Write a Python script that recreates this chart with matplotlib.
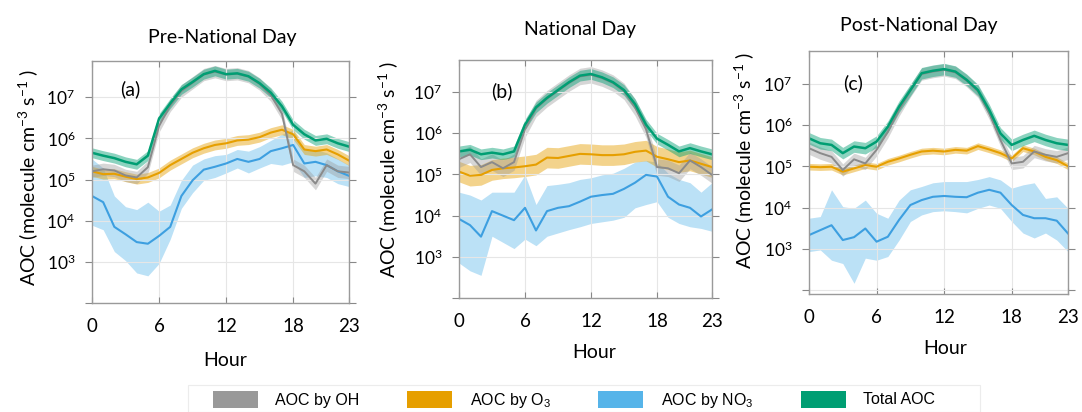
import numpy as np
import matplotlib
matplotlib.use("Agg")
import matplotlib.pyplot as plt
from matplotlib.patches import Patch, Rectangle

plt.rcParams['font.family'] = ['Lato', 'DejaVu Sans']
plt.rcParams['mathtext.default'] = 'regular'

hours = np.arange(24)
xtick_vals = [0, 6, 12, 18, 23]
panel_titles = ["Pre-National Day", "National Day", "Post-National Day"]
panel_tags = ["(a)", "(b)", "(c)"]
series_names = ["AOC by OH", "AOC by O$_3$", "AOC by NO$_3$", "Total AOC"]

# ---- values as log10(AOC) ----
# Panel (a) Pre-National Day
oh_a = [5.20, 5.25, 5.22, 5.10, 5.05, 5.30, 6.30, 6.80, 7.15, 7.35, 7.55, 7.62,
        7.55, 7.57, 7.50, 7.32, 7.05, 6.60, 5.35, 5.20, 4.90, 5.35, 5.20, 5.17]
o3_a = [5.20, 5.13, 5.14, 5.07, 5.01, 5.05, 5.16, 5.35, 5.50, 5.65, 5.76, 5.84,
        5.88, 5.95, 5.97, 6.03, 6.14, 6.21, 6.10, 5.73, 5.69, 5.73, 5.61, 5.46]
no3_a = [4.60, 4.45, 3.85, 3.67, 3.48, 3.44, 3.63, 3.85, 4.60, 4.98, 5.24, 5.31,
         5.39, 5.50, 5.43, 5.50, 5.69, 5.76, 5.84, 5.39, 5.43, 5.35, 5.20, 5.09]
no3_a_hi = [5.50, 5.28, 4.60, 4.34, 4.27, 4.45, 4.23, 4.38, 4.98, 5.35, 5.50, 5.58,
            5.61, 5.73, 5.69, 5.80, 5.95, 6.10, 6.21, 5.73, 5.73, 5.65, 5.50, 5.35]
no3_a_lo = [3.89, 3.78, 3.25, 3.03, 2.73, 2.66, 2.96, 3.55, 4.30, 4.68, 4.98, 5.05,
            5.16, 5.28, 5.16, 5.28, 5.39, 5.35, 5.43, 5.05, 5.09, 5.05, 4.90, 4.83]
tot_a = [5.65, 5.58, 5.52, 5.43, 5.37, 5.58, 6.48, 6.85, 7.19, 7.37, 7.56, 7.64,
         7.56, 7.58, 7.51, 7.34, 7.11, 6.78, 6.33, 6.10, 5.95, 5.99, 5.88, 5.80]

# Panel (b) National Day
oh_b = [5.37, 5.49, 5.18, 5.30, 5.15, 5.30, 6.10, 6.60, 6.84, 7.03, 7.22, 7.38,
        7.42, 7.34, 7.22, 7.02, 6.63, 6.10, 5.18, 5.15, 5.03, 5.34, 5.18, 4.99]
o3_b = [5.07, 4.97, 4.99, 5.11, 5.15, 5.17, 5.20, 5.24, 5.41, 5.40, 5.45, 5.50,
        5.49, 5.47, 5.47, 5.49, 5.55, 5.58, 5.43, 5.37, 5.30, 5.34, 5.26, 5.18]
no3_b = [3.92, 3.77, 3.49, 4.11, 4.00, 3.89, 4.19, 3.64, 4.11, 4.19, 4.23, 4.34,
         4.46, 4.50, 4.53, 4.65, 4.80, 4.99, 4.95, 4.46, 4.27, 4.19, 3.98, 4.15]
no3_b_hi = [4.57, 4.50, 4.38, 4.57, 4.57, 4.57, 4.99, 4.27, 4.73, 4.76, 4.80, 4.88,
            4.92, 4.99, 5.03, 5.15, 5.30, 5.34, 5.30, 5.03, 4.88, 4.80, 4.57, 4.80]
no3_b_lo = [2.85, 2.66, 2.55, 3.50, 3.35, 3.20, 3.43, 3.27, 3.50, 3.58, 3.66, 3.73,
            3.81, 3.85, 3.89, 3.96, 4.19, 4.27, 4.34, 3.96, 3.81, 3.73, 3.69, 3.62]
tot_b = [5.56, 5.60, 5.49, 5.53, 5.49, 5.56, 6.21, 6.63, 6.86, 7.05, 7.24, 7.40,
         7.44, 7.36, 7.24, 7.05, 6.71, 6.21, 5.87, 5.72, 5.56, 5.64, 5.56, 5.49]

# Panel (c) Post-National Day
oh_c = [5.44, 5.32, 5.23, 4.91, 5.17, 5.07, 5.40, 5.84, 6.37, 6.83, 7.24, 7.30,
        7.34, 7.28, 7.08, 6.82, 6.29, 5.64, 5.07, 5.11, 5.36, 5.28, 5.23, 5.32]
o3_c = [4.99, 4.98, 4.99, 4.87, 4.95, 5.03, 4.99, 5.11, 5.19, 5.28, 5.36, 5.38,
        5.36, 5.40, 5.38, 5.49, 5.41, 5.32, 5.19, 5.44, 5.36, 5.23, 5.15, 5.00]
no3_c = [3.33, 3.45, 3.57, 3.21, 3.28, 3.49, 3.17, 3.29, 3.70, 4.06, 4.18, 4.26,
         4.28, 4.26, 4.25, 4.36, 4.43, 4.36, 4.06, 3.82, 3.74, 3.74, 3.68, 3.37]
no3_c_hi = [3.74, 3.78, 4.43, 4.02, 3.98, 4.18, 3.86, 3.74, 4.18, 4.43, 4.51, 4.60,
            4.63, 4.63, 4.63, 4.68, 4.75, 4.67, 4.47, 4.55, 4.60, 4.22, 4.26, 3.98]
no3_c_lo = [2.93, 2.97, 2.72, 2.64, 2.16, 2.77, 2.72, 2.81, 3.21, 3.66, 3.82, 3.90,
            3.92, 3.90, 3.87, 3.98, 4.06, 3.98, 3.66, 3.38, 3.26, 3.38, 3.21, 2.93]
tot_c = [5.68, 5.56, 5.52, 5.32, 5.48, 5.44, 5.60, 5.96, 6.45, 6.85, 7.26, 7.32,
         7.36, 7.30, 7.10, 6.85, 6.37, 5.80, 5.52, 5.64, 5.74, 5.64, 5.56, 5.52]

# band half-widths (decades) for OH, O3, Total per panel
hw_oh = [0.15, 0.20, 0.15]
hw_o3 = [0.12, 0.25, 0.08]
hw_tot = [0.12, 0.13, 0.14]

# y-axis limits (log10) per panel
ylims = [(2.44, 7.88), (2.34, 7.78), (1.90, 7.80)]

panels = [
    (oh_a, o3_a, no3_a, no3_a_lo, no3_a_hi, tot_a),
    (oh_b, o3_b, no3_b, no3_b_lo, no3_b_hi, tot_b),
    (oh_c, o3_c, no3_c, no3_c_lo, no3_c_hi, tot_c),
]

c_oh, c_oh_line = '#9a9a9a', '#8a8a8a'
c_o3, c_o3_line = '#E69F00', '#E69F00'
c_no3, c_no3_line = '#56B4E9', '#3d9fe0'
c_tot, c_tot_line = '#009E73', '#009E73'

fig = plt.figure(figsize=(10.82, 4.12), dpi=100)
W, H = 1082, 412
boxes = [(92, 61, 349, 303), (459, 60, 712, 298), (809, 51, 1068, 294)]
tag_pos = [(0.148, 0.885), (0.17, 0.87), (0.17, 0.868)]
title_xy = [(222, 37), (580, 29), (919, 26)]
ylabel_xy = [(-0.249, 0.52), (-0.281, 0.542), (-0.251, 0.551)]
xlabel_xy = [(0.52, -0.236), (0.534, -0.231), (0.525, -0.226)]

for i, (box, data) in enumerate(zip(boxes, panels)):
    l, t, r, b = box
    ax = fig.add_axes([l / W, 1 - b / H, (r - l) / W, (b - t) / H])
    oh, o3, no3, no3_lo, no3_hi, tot = [np.array(d) for d in data]

    ax.fill_between(hours, 10 ** no3_lo, 10 ** no3_hi, color=c_no3, alpha=0.40, lw=0)
    ax.fill_between(hours, 10 ** (o3 - hw_o3[i]), 10 ** (o3 + hw_o3[i]), color=c_o3, alpha=0.45, lw=0)
    ax.fill_between(hours, 10 ** (oh - hw_oh[i]), 10 ** (oh + hw_oh[i]), color=c_oh, alpha=0.40, lw=0)
    ax.fill_between(hours, 10 ** (tot - hw_tot[i]), 10 ** (tot + hw_tot[i]), color=c_tot, alpha=0.45, lw=0)

    ax.plot(hours, 10 ** no3, color=c_no3_line, lw=1.5)
    ax.plot(hours, 10 ** o3, color=c_o3_line, lw=1.5)
    ax.plot(hours, 10 ** oh, color=c_oh_line, lw=1.4)
    ax.plot(hours, 10 ** tot, color=c_tot_line, lw=1.8)

    ax.set_yscale('log')
    ax.set_xlim(0, 23)
    ax.set_ylim(10 ** ylims[i][0], 10 ** ylims[i][1])
    ax.set_xticks(xtick_vals)
    ax.set_xticklabels([str(v) for v in xtick_vals], fontsize=13.5)
    yt = [10 ** k for k in range(2, 8)]
    ax.set_yticks(yt)
    ax.set_yticklabels([''] + ['$10^{%d}$' % k for k in range(3, 8)], fontsize=12.5)
    ax.yaxis.set_minor_locator(matplotlib.ticker.NullLocator())
    ax.tick_params(axis='x', pad=11, length=4, color='#888888', top=True, direction='in')
    ax.tick_params(axis='y', pad=7, length=5, color='#888888', right=True, direction='out')
    ax.grid(True, color='#e6e6e6', lw=0.8)
    for s in ax.spines.values():
        s.set_color('#9a9a9a')
        s.set_linewidth(1.0)
    fig.text(title_xy[i][0] / W, 1 - title_xy[i][1] / H, panel_titles[i],
             fontsize=14, ha='center', va='center')
    ax.set_xlabel('Hour', fontsize=14)
    ax.xaxis.label.set_va('center')
    ax.xaxis.set_label_coords(*xlabel_xy[i])
    ax.set_ylabel('AOC (molecule cm$^{-3}$ s$^{-1}$ )', fontsize=14)
    ax.yaxis.label.set_va('center')
    ax.yaxis.set_label_coords(*ylabel_xy[i])
    ax.text(tag_pos[i][0], tag_pos[i][1], panel_tags[i], transform=ax.transAxes,
            fontsize=14, ha='center', va='center')

# faint legend frame
fig.add_artist(Rectangle((188 / W, 0.0), (980 - 188) / W, (412 - 385) / H,
                         transform=fig.transFigure, facecolor='white',
                         edgecolor='#ececec', lw=0.8))
handles = [Patch(facecolor=c, edgecolor='none') for c in ['#999999', c_o3, c_no3, c_tot]]
leg = fig.legend(handles, series_names, loc='center', bbox_to_anchor=(574 / W, 1 - 400 / H),
                 ncol=4, frameon=False, handlelength=2.8, handleheight=1.25,
                 columnspacing=3.0, handletextpad=1.1, borderpad=0.2,
                 prop={'family': ['Liberation Sans'], 'size': 11.5})

fig.savefig('out.png', dpi=100)
